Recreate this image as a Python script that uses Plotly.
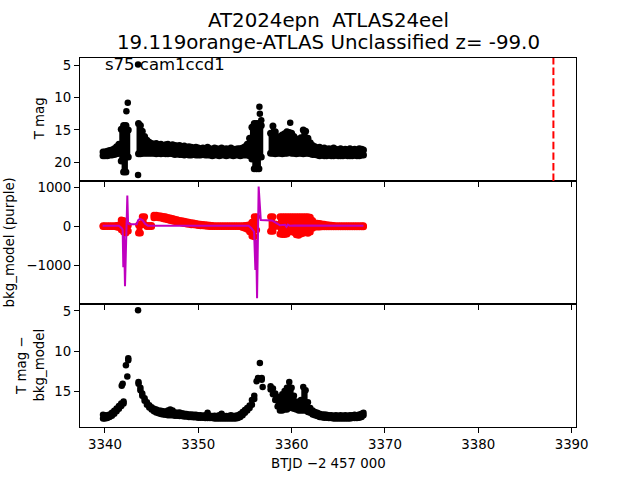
import plotly.graph_objects as go

# ---------------- data ----------------
# time grid pieces (BTJD - 2457000)
t_early = [3339.8, 3340.0, 3340.25, 3340.5, 3340.75, 3341.0, 3341.25, 3341.5, 3341.75, 3342.0, 3342.25, 3342.5]
t_mid_seg = [3343.6, 3343.8, 3344.0, 3344.25, 3344.5, 3344.75, 3345.0, 3345.25, 3345.5, 3345.75,
             3346.0, 3346.25, 3346.5, 3346.75, 3347.0, 3347.25, 3347.5, 3347.75, 3348.0, 3348.25,
             3348.5, 3348.75, 3349.0, 3349.25, 3349.5, 3349.75, 3350.0, 3350.25, 3350.5, 3350.75,
             3351.0, 3351.25, 3351.5, 3351.75, 3352.0, 3352.25, 3352.5, 3352.75, 3353.0, 3353.25,
             3353.5, 3353.75, 3354.0, 3354.25, 3354.5, 3354.75, 3355.0, 3355.25, 3355.5, 3355.75,
             3356.0, 3356.25, 3356.5, 3356.75]
t_late = [3357.75, 3358.0, 3358.25, 3358.5, 3358.75, 3359.0, 3359.25, 3359.5, 3359.75, 3360.0,
          3360.25, 3360.5, 3360.75, 3361.0, 3361.25, 3361.5, 3361.75, 3362.0, 3362.25, 3362.5,
          3362.75, 3363.0, 3363.25, 3363.5, 3363.75, 3364.0, 3364.25, 3364.5, 3364.75, 3365.0,
          3365.25, 3365.5, 3365.75, 3366.0, 3366.25, 3366.5, 3366.75, 3367.0, 3367.25, 3367.5,
          3367.7]

# top panel: T mag, bright and faint envelope of the dense point cloud
t_top = t_early + t_mid_seg + t_late
top_bright = [18.4, 18.4, 18.3, 18.2, 18.1, 17.9, 17.6, 17.2, 14.9, 14.3, 14.3, 15.0,
              14.0, 14.3, 15.2, 16.0, 16.6, 16.9, 17.1, 17.2, 17.1, 17.3,
              17.2, 17.4, 17.3, 17.2, 17.4, 17.3, 17.4, 17.5, 17.4, 17.6,
              17.5, 17.7, 17.6, 17.7, 17.8, 17.7, 17.8, 17.9, 17.8, 17.9,
              17.7, 17.9, 18.0, 17.8, 17.9, 18.0, 17.8, 18.0, 17.9, 18.0,
              17.8, 18.0, 18.0, 17.9, 17.9, 17.8, 17.6, 17.2, 16.3, 14.6,
              14.0, 14.0, 14.0, 14.3,
              15.5, 14.4, 15.3, 16.2, 16.0, 15.8, 15.6, 15.3, 15.4, 15.5,
              16.0, 16.4, 16.7, 16.2, 15.0, 15.2, 16.3, 17.0, 17.4, 17.6,
              17.8, 17.7, 17.9, 17.8, 18.0, 17.9, 18.0, 17.8, 18.0, 18.1,
              17.9, 18.1, 18.0, 18.1, 17.9, 18.1, 18.0, 18.1, 17.9, 18.0,
              18.1]
top_faint = [19.0, 19.0, 19.0, 18.9, 18.9, 18.8, 18.7, 18.6, 19.8, 21.5, 21.5, 19.2,
             18.7, 18.7, 18.6, 18.6, 18.6, 18.6, 18.6, 18.6, 18.7, 18.6,
             18.7, 18.6, 18.7, 18.7, 18.6, 18.7, 18.8, 18.7, 18.8, 18.8,
             18.9, 18.8, 18.9, 18.9, 18.8, 18.9, 18.9, 18.9, 18.8, 18.9,
             18.9, 18.9, 19.0, 18.9, 18.9, 19.0, 18.9, 18.9, 19.0, 18.9,
             18.9, 19.0, 18.9, 18.9, 19.0, 18.9, 18.9, 18.9, 19.0, 19.5,
             21.0, 21.0, 21.0, 19.2,
             18.6, 18.6, 18.7, 18.6, 18.6, 18.7, 18.6, 18.6, 18.5, 18.6,
             18.6, 18.7, 18.6, 18.6, 18.7, 18.6, 18.6, 18.7, 18.8, 18.8,
             18.9, 19.0, 18.9, 19.0, 19.0, 18.9, 19.0, 19.0, 18.9, 19.0,
             19.0, 19.0, 18.9, 19.0, 19.0, 19.0, 18.9, 19.0, 19.0, 18.9,
             18.9]
t_top_pts = [3342.3, 3342.45, 3343.55, 3343.55, 3356.55, 3356.6, 3356.75, 3359.85]
top_pts = [12.1, 10.8, 4.85, 22.0, 11.4, 12.5, 13.5, 13.9]

# middle panel: red points (upper / lower envelope) and purple bkg_model line
t_red = t_early + t_mid_seg[:52] + t_late
red_hi = [10, 10, 10, 10, 10, 10, 20, 30, 160, 150, 30, 20,
          30, 60, 240, 240, 20, 20, 20, 280, 280, 270,
          260, 250, 240, 225, 210, 195, 180, 165, 150, 140,
          125, 115, 100, 90, 80, 70, 60, 50, 45, 40,
          30, 25, 20, 15, 15, 10, 10, 10, 10, 10,
          10, 10, 10, 10, 10, 15, 20, 25, 40, 100,
          240, 240,
          240, 245, 60, 40, 245, 245, 245, 245, 240, 240,
          240, 240, 240, 240, 240, 240, 240, 230, 150, 80,
          75, 70, 60, 50, 40, 30, 25, 20, 15, 15,
          15, 15, 15, 15, 15, 15, 15, 15, 15, 15,
          15]
red_lo = [-10, -10, -10, -10, -10, -10, -20, -30, -90, -150, -175, -120,
          -175, -175, 40, 40, -10, -10, -10, 220, 230, 220,
          210, 190, 180, 165, 150, 135, 120, 105, 95, 80,
          70, 60, 50, 40, 35, 30, 20, 15, 10, 5,
          0, -10, -10, -10, -10, -10, -10, -10, -10, -10,
          -10, -10, -10, -10, -10, -30, -50, -80, -140, -250,
          -270, -100,
          -130, -130, 0, 0, -200, -210, -210, -200, -150, -120,
          -160, -220, -230, -200, -180, -160, -180, -150, -50, -20,
          -20, -20, -15, -15, -15, -15, -15, -15, -15, -15,
          -15, -15, -15, -15, -15, -15, -15, -15, -15, -15,
          -15]
t_bkg = [3339.75, 3341.5, 3341.8, 3341.9, 3341.97, 3342.05, 3342.15, 3342.27, 3342.4, 3342.48,
         3342.6, 3343.4, 3343.55, 3343.75, 3344.05, 3344.3, 3344.6, 3355.4, 3355.7, 3355.98,
         3356.12, 3356.2, 3356.3, 3356.38, 3356.47, 3356.7, 3357.9, 3358.3, 3358.75, 3359.3,
         3359.45, 3359.6, 3359.8, 3360.3, 3367.7]
bkg = [15, 15, -50, -90, -1050, -250, -1540, -300, 790, 75,
       50, 50, 150, 190, 150, 60, 15, 15, -50, -140,
       -1120, -350, -1850, -500, 1020, 160, 150, 90, 25, 35,
       -15, 40, 15, 20, 15]

# bottom panel: T mag - bkg_model
t_bot = t_early[:10] + t_mid_seg[:51] + t_late
bot_bright = [17.85, 17.9, 17.9, 17.8, 17.6, 17.35, 17.05, 16.75, 16.45, 16.2,
              13.8, 14.5, 15.2, 15.8, 16.3, 16.65, 16.9, 17.1, 17.2, 17.3,
              17.35, 17.4, 17.45, 17.3, 17.2, 17.3, 17.55, 17.6, 17.55, 17.65,
              17.7, 17.75, 17.8, 17.8, 17.85, 17.85, 17.9, 17.9, 17.95, 17.9,
              17.6, 17.95, 18.0, 17.95, 18.0, 17.9, 17.7, 18.0, 18.0, 18.0,
              17.9, 18.0, 17.95, 17.9, 17.75, 17.5, 17.25, 17.0, 16.7, 16.0,
              15.5,
              14.3, 14.6, 15.2, 15.6, 16.0, 15.3, 14.9, 14.5, 13.8, 14.5,
              15.5, 16.2, 16.4, 16.0, 14.4, 14.8, 16.3, 17.0, 17.3, 17.5,
              17.6, 17.7, 17.8, 17.8, 17.85, 17.9, 17.9, 17.95, 17.9, 17.95,
              17.9, 17.95, 17.9, 17.95, 17.9, 17.9, 17.85, 17.9, 17.8, 17.7,
              17.6]
bot_faint = [18.3, 18.3, 18.25, 18.1, 17.95, 17.7, 17.4, 17.1, 16.75, 16.45,
             14.0, 14.8, 15.5, 16.1, 16.6, 16.95, 17.2, 17.4, 17.55, 17.65,
             17.75, 17.8, 17.85, 17.9, 17.9, 17.9, 17.95, 17.95, 18.0, 18.0,
             18.05, 18.05, 18.1, 18.1, 18.15, 18.15, 18.2, 18.2, 18.2, 18.25,
             18.25, 18.25, 18.25, 18.3, 18.3, 18.3, 18.3, 18.3, 18.3, 18.3,
             18.3, 18.3, 18.3, 18.25, 18.1, 17.9, 17.6, 17.3, 17.0, 16.6,
             15.9,
             14.7, 15.3, 16.0, 16.8, 17.3, 17.3, 17.2, 17.2, 17.0, 17.0,
             17.1, 17.2, 17.3, 17.3, 17.3, 17.3, 17.5, 17.6, 17.8, 17.9,
             18.0, 18.1, 18.15, 18.2, 18.2, 18.25, 18.25, 18.3, 18.3, 18.3,
             18.3, 18.3, 18.3, 18.3, 18.3, 18.25, 18.25, 18.25, 18.2, 18.1,
             17.9]
t_bot_pts = [3341.8, 3341.9, 3342.25, 3342.4, 3342.5, 3342.5, 3343.55, 3356.25, 3356.4, 3356.6, 3356.8, 3356.8, 3356.9]
bot_pts = [14.25, 14.0, 11.7, 13.1, 10.85, 11.1, 4.9, 13.7, 13.3, 11.45, 13.3, 13.5, 14.4]

t_peak = 3388.05
x_ticks = [3340, 3350, 3360, 3370, 3380, 3390]
top_ticks = [5, 10, 15, 20]
mid_ticks = [-1000, 0, 1000]
mid_ticktext = ["\u22121000", "0", "1000"]
bot_ticks = [5, 10, 15]

title1 = "AT2024epn \u00a0ATLAS24eel"
title2 = "19.119orange-ATLAS Unclassified z= -99.0"
label_text = "s75 cam1ccd1"

# ---------------- figure ----------------
FONT = "DejaVu Sans"
W, H = 640, 480
ML, MR, MT, MB = 80, 64, 58, 53
PW, PH = W - ML - MR, H - MT - MB


def px_x(px):
    return (px - ML) / PW


def px_y(py):
    return (H - MB - py) / PH


fig = go.Figure()


def cloud(x, a, b, xa, ya, color, size):
    span = [bb - aa for aa, bb in zip(a, b)]
    fig.add_trace(go.Scatter(
        x=x, y=a, mode="markers", xaxis=xa, yaxis=ya,
        marker=dict(color=color, size=size, line=dict(width=0)),
        error_y=dict(type="data", symmetric=False, array=span,
                     arrayminus=[0] * len(span), thickness=4, width=0, color=color),
        hoverinfo="skip", showlegend=False))
    fig.add_trace(go.Scatter(
        x=x, y=b, mode="markers", xaxis=xa, yaxis=ya,
        marker=dict(color=color, size=size, line=dict(width=0)),
        hoverinfo="skip", showlegend=False))


def dots(x, y, xa, ya, color, size):
    fig.add_trace(go.Scatter(
        x=x, y=y, mode="markers", xaxis=xa, yaxis=ya,
        marker=dict(color=color, size=size, line=dict(width=0)),
        hoverinfo="skip", showlegend=False))


MS = 6.5
cloud(t_top, top_bright, top_faint, "x", "y", "black", MS + 0.5)
dots(t_top_pts, top_pts, "x", "y", "black", MS)

cloud(t_red, red_lo, red_hi, "x2", "y2", "#ff0000", MS + 0.5)
fig.add_trace(go.Scatter(x=t_bkg, y=bkg, mode="lines", xaxis="x2", yaxis="y2",
                         line=dict(color="#bf00bf", width=2),
                         hoverinfo="skip", showlegend=False))

cloud(t_bot, bot_bright, bot_faint, "x3", "y3", "black", MS)
dots(t_bot_pts, bot_pts, "x3", "y3", "black", MS)

xr = [3337.33, 3390.47]
axis_common = dict(showline=True, mirror=True, linecolor="black", linewidth=1,
                   ticks="outside", ticklen=5, tickwidth=1, tickcolor="black",
                   showgrid=False, zeroline=False,
                   tickfont=dict(family=FONT, size=13.33, color="black"))

fig.update_layout(
    width=W, height=H,
    margin=dict(l=ML, r=MR, t=MT, b=MB, pad=0),
    paper_bgcolor="white", plot_bgcolor="white",
    font=dict(family=FONT, color="black"),
    xaxis=dict(domain=[0, 1], anchor="y", range=xr, tickvals=x_ticks,
               showticklabels=False, **axis_common),
    xaxis2=dict(domain=[0, 1], anchor="y2", range=xr, tickvals=x_ticks,
                showticklabels=False, **axis_common),
    xaxis3=dict(domain=[0, 1], anchor="y3", range=xr, tickvals=x_ticks,
                **axis_common),
    yaxis=dict(domain=[2 / 3, 1], anchor="x", range=[22.91, 3.86],
               tickvals=top_ticks, **axis_common),
    yaxis2=dict(domain=[1 / 3, 2 / 3], anchor="x2", range=[-1995, 1160],
                tickvals=mid_ticks, ticktext=mid_ticktext, **axis_common),
    yaxis3=dict(domain=[0, 1 / 3], anchor="x3", range=[19.35, 4.14],
                tickvals=bot_ticks, **axis_common),
)

fig.add_shape(type="line", xref="x", yref="y domain", x0=t_peak, x1=t_peak, y0=0, y1=1,
              line=dict(color="#ff0000", width=2, dash="7.4px,3.2px"))

ann = []
ann.append(dict(text=title1, x=0.5, y=px_y(20), xref="paper", yref="paper",
                xanchor="center", yanchor="middle", showarrow=False,
                font=dict(family=FONT, size=19.8, color="black")))
ann.append(dict(text=title2, x=0.5, y=px_y(43), xref="paper", yref="paper",
                xanchor="center", yanchor="middle", showarrow=False,
                font=dict(family=FONT, size=19.8, color="black")))
ann.append(dict(text=label_text, x=3340, xshift=-2, y=px_y(64.8), xref="x", yref="paper",
                xanchor="left", yanchor="middle", showarrow=False,
                font=dict(family=FONT, size=16.5, color="black")))
ann.append(dict(text="T mag", x=px_x(39), y=px_y(119.3), xref="paper", yref="paper",
                xanchor="center", yanchor="middle", showarrow=False, textangle=-90,
                font=dict(family=FONT, size=13.33, color="black")))
ann.append(dict(text="bkg_model (purple)", x=px_x(9), y=px_y(242.4), xref="paper", yref="paper",
                xanchor="center", yanchor="middle", showarrow=False, textangle=-90,
                font=dict(family=FONT, size=13.33, color="black")))
ann.append(dict(text="T mag \u2212<br>bkg_model", x=px_x(30), y=px_y(365.6), xref="paper", yref="paper",
                xanchor="center", yanchor="middle", showarrow=False, textangle=-90,
                font=dict(family=FONT, size=13.33, color="black")))
ann.append(dict(text="BTJD \u22122 457 000", x=0.5, y=px_y(463.5), xref="paper", yref="paper",
                xanchor="center", yanchor="middle", showarrow=False,
                font=dict(family=FONT, size=13.33, color="black")))
fig.update_layout(annotations=ann)

fig.write_html("out.html")
